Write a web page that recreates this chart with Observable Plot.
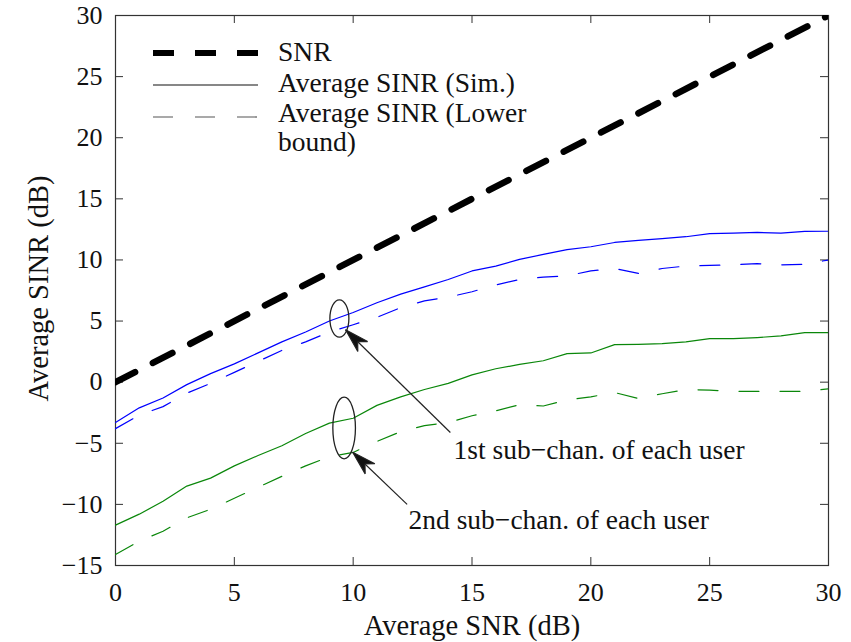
<!DOCTYPE html>
<html><head><meta charset="utf-8">
<script src="https://cdn.jsdelivr.net/npm/d3@7"></script>
<script src="https://cdn.jsdelivr.net/npm/@observablehq/plot@0.6"></script>
<style>
html,body{margin:0;padding:0;background:#fff;}
#wrap{position:relative;width:851px;height:642px;overflow:hidden;}
#legend{position:absolute;left:0;top:0;pointer-events:none;}
</style></head><body><div id="wrap"></div>
<script>
// ---- data ----
const snrDb = [0,1,2,3,4,5,6,7,8,9,10,11,12,13,14,15,16,17,18,19,20,21,22,23,24,25,26,27,28,29,30];
const snrLineX = [0, 30];
const snrLineY = [0, 30];
const sinrSim1 = [-3.3,-2.1,-1.3,-0.2,0.7,1.5,2.4,3.3,4.1,5.0,5.7,6.5,7.2,7.8,8.4,9.1,9.5,10.05,10.45,10.84,11.08,11.43,11.6,11.75,11.9,12.15,12.2,12.25,12.2,12.33,12.35];
const sinrLow1 = [-3.8,-2.7,-2.0,-0.9,-0.1,0.8,1.7,2.6,3.3,4.1,4.7,5.3,6.1,6.65,6.95,7.4,7.95,8.4,8.6,8.7,9.1,9.3,8.9,9.3,9.5,9.55,9.6,9.7,9.6,9.65,10.0];
const sinrSim2 = [-11.7,-10.8,-9.75,-8.5,-7.85,-6.85,-6.0,-5.2,-4.2,-3.35,-2.95,-1.9,-1.2,-0.6,-0.1,0.6,1.1,1.45,1.75,2.33,2.39,3.07,3.1,3.15,3.3,3.56,3.56,3.65,3.78,4.05,4.05];
const sinrLow2 = [-14.1,-13.0,-12.2,-11.1,-10.4,-9.5,-8.6,-7.7,-6.85,-6.1,-5.75,-4.85,-4.05,-3.55,-3.3,-2.75,-2.35,-1.85,-1.95,-1.45,-1.2,-0.85,-1.33,-0.95,-0.6,-0.65,-0.75,-0.75,-0.75,-0.75,-0.55];
const xTicks = [0,5,10,15,20,25,30];
const yTicks = [-15,-10,-5,0,5,10,15,20,25,30];
const xLabel = "Average SNR (dB)";
const yLabel = "Average SINR (dB)";
const legendLabels = ["SNR", "Average SINR (Sim.)", "Average SINR (Lower", "bound)"];
// annotations
const ellipseX = [9.42, 9.62];
const ellipseY = [5.21, -3.75];
const arrowX1 = [14.09, 12.27];
const arrowY1 = [-4.12, -10.0];
const arrowX2 = [9.68, 9.98];
const arrowY2 = [4.29, -5.73];
const noteText = ["1st sub\u2212chan. of each user", "2nd sub\u2212chan. of each user"];
const noteX = [14.22, 12.33];
const noteY = [-5.59, -11.32];

// ---- build tables ----
const series = (ys) => snrDb.map((x, i) => ({x, y: ys[i]}));
const snrRows = snrLineX.map((x, i) => ({x, y: snrLineY[i]}));
const notes = noteText.map((t, i) => ({t, x: noteX[i], y: noteY[i]}));
const arrows = arrowX1.map((x1, i) => ({x1, y1: arrowY1[i], x2: arrowX2[i], y2: arrowY2[i]}));

// ---- styles ----
const W = 851, H = 642, mL = 115, mR = 23, mT = 15, mB = 77;
const innerW = W - mL - mR, innerH = H - mT - mB;
const tickLen = 8;
const FONT = "'Liberation Serif', 'Times New Roman', serif";
const BLUE = "#0000ff", GREEN = "#0a870a", AX = "#333";

function ellipseSymbol(rx, ry) {
  const k = 0.5523;
  return {draw(c) {
    c.moveTo(rx, 0);
    c.bezierCurveTo(rx, k * ry, k * rx, ry, 0, ry);
    c.bezierCurveTo(-k * rx, ry, -rx, k * ry, -rx, 0);
    c.bezierCurveTo(-rx, -k * ry, -k * rx, -ry, 0, -ry);
    c.bezierCurveTo(k * rx, -ry, rx, -k * ry, rx, 0);
    c.closePath();
  }};
}
const ellipseDims = [[9.5, 18.7], [11.3, 30.8]];

function arrowHead(color, context) {
  const doc = context.document;
  const ns = "http://www.w3.org/2000/svg";
  const m = doc.createElementNS(ns, "marker");
  m.setAttribute("viewBox", "-26 -9 28 18");
  m.setAttribute("markerWidth", 28);
  m.setAttribute("markerHeight", 18);
  m.setAttribute("markerUnits", "userSpaceOnUse");
  m.setAttribute("refX", 0);
  m.setAttribute("refY", 0);
  m.setAttribute("orient", "auto");
  const p = doc.createElementNS(ns, "path");
  p.setAttribute("d", "M0,0L-24,-7L-17,0L-24,7Z");
  p.setAttribute("fill", "#111");
  m.appendChild(p);
  return m;
}

const chart = Plot.plot({
  width: W, height: H,
  marginLeft: mL, marginRight: mR, marginTop: mT, marginBottom: mB,
  style: {fontFamily: FONT, fontSize: "26px", color: "#111", background: "white"},
  x: {domain: [0, 30]},
  y: {domain: [-15, 30]},
  marks: [
    Plot.frame({stroke: AX, strokeWidth: 1.2}),
    Plot.tickX(xTicks, {x: d => d, insetTop: innerH - tickLen, stroke: AX}),
    Plot.tickX(xTicks, {x: d => d, insetBottom: innerH - tickLen, stroke: AX}),
    Plot.tickY(yTicks, {y: d => d, insetRight: innerW - tickLen, stroke: AX}),
    Plot.tickY(yTicks, {y: d => d, insetLeft: innerW - tickLen, stroke: AX}),
    Plot.axisX(xTicks, {tickSize: 0, tickPadding: 17, label: null, fontSize: 26}),
    Plot.axisY(yTicks, {tickSize: 0, tickPadding: 13, label: null, fontSize: 26}),
    Plot.line(series(sinrSim1), {x: "x", y: "y", stroke: BLUE, strokeWidth: 1.2, clip: true}),
    Plot.line(series(sinrLow1), {x: "x", y: "y", stroke: BLUE, strokeWidth: 1.2, strokeDasharray: "20,21", clip: true}),
    Plot.line(series(sinrSim2), {x: "x", y: "y", stroke: GREEN, strokeWidth: 1.2, clip: true}),
    Plot.line(series(sinrLow2), {x: "x", y: "y", stroke: GREEN, strokeWidth: 1.2, strokeDasharray: "20,21", clip: true}),
    Plot.line(snrRows, {x: "x", y: "y", stroke: "#000", strokeWidth: 6.5, strokeDasharray: "22,20", clip: true}),
    Plot.dot([0], {x: () => ellipseX[0], y: () => ellipseY[0], symbol: ellipseSymbol(...ellipseDims[0]), r: 10, fill: "none", stroke: "#222", strokeWidth: 1.3}),
    Plot.dot([1], {x: () => ellipseX[1], y: () => ellipseY[1], symbol: ellipseSymbol(...ellipseDims[1]), r: 10, fill: "none", stroke: "#222", strokeWidth: 1.3}),
    Plot.link(arrows, {x1: "x1", y1: "y1", x2: "x2", y2: "y2", stroke: "#222", strokeWidth: 1.2, markerEnd: arrowHead}),
    Plot.text(notes, {x: "x", y: "y", text: "t", textAnchor: "start", lineAnchor: "middle", fontSize: 27.5, fill: "#111"}),
    Plot.text([xLabel], {text: d => d, frameAnchor: "bottom", textAnchor: "middle", lineAnchor: "middle", dy: 60, fontSize: 28.5, fill: "#111"}),
    Plot.text([yLabel], {text: d => d, frameAnchor: "left", textAnchor: "middle", lineAnchor: "middle", dx: -77, dy: -2, rotate: -90, fontSize: 28.5, fill: "#111"})
  ]
});
const wrap = document.getElementById("wrap");
wrap.appendChild(chart);

// ---- legend overlay ----
const leg = d3.select(wrap).append("svg").attr("id", "legend").attr("width", W).attr("height", H);
const lx1 = 153, lx2 = 258, tx = 278;
const rowsY = [53, 85, 117];
leg.append("line").attr("x1", lx1).attr("x2", lx2).attr("y1", rowsY[0]).attr("y2", rowsY[0])
  .attr("stroke", "#000").attr("stroke-width", 6).attr("stroke-dasharray", "21,21");
leg.append("line").attr("x1", lx1).attr("x2", lx2).attr("y1", rowsY[1]).attr("y2", rowsY[1])
  .attr("stroke", "#111").attr("stroke-width", 1.2);
leg.append("line").attr("x1", lx1).attr("x2", lx2).attr("y1", rowsY[2]).attr("y2", rowsY[2])
  .attr("stroke", "#555").attr("stroke-width", 1.2).attr("stroke-dasharray", "20,22");
const textY = [52, 83, 113, 142];
legendLabels.forEach((t, i) => {
  leg.append("text").attr("x", tx).attr("y", textY[i]).attr("dy", "0.32em")
    .attr("font-family", FONT).attr("font-size", 27.5).attr("fill", "#111").text(t);
});
</script></body></html>
